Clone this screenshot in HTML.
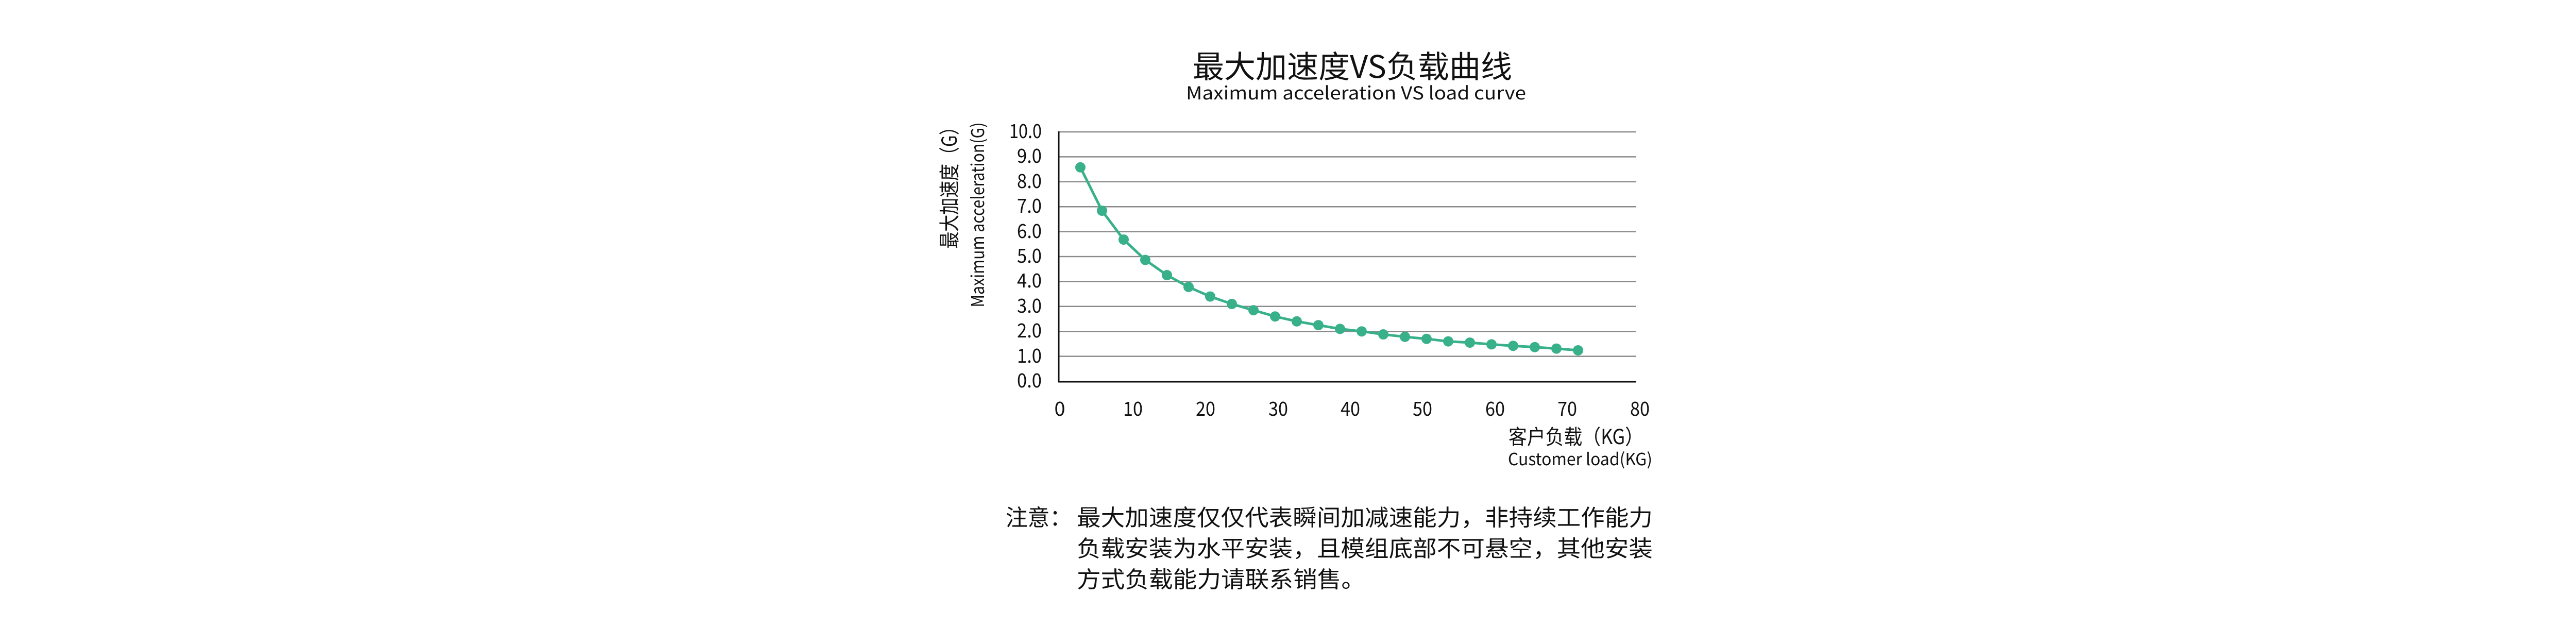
<!DOCTYPE html>
<html><head><meta charset="utf-8"><style>
html,body{margin:0;padding:0;background:#fff;}
svg{display:block;}
text{font-family:"Noto Sans CJK SC","Liberation Sans",sans-serif;fill:#111;}
</style></head><body>
<svg width="5031" height="1250" viewBox="0 0 5031 1250" xmlns="http://www.w3.org/2000/svg">
<text x="2315" y="151" font-size="60" textLength="620" lengthAdjust="spacingAndGlyphs">最大加速度VS负载曲线</text>
<text x="2302" y="193" font-size="35" textLength="660" lengthAdjust="spacingAndGlyphs">Maximum acceleration VS load curve</text>
<g stroke="#8a8a8a" stroke-width="2.5">
<line x1="2055" x2="3176" y1="256" y2="256"/>
<line x1="2055" x2="3176" y1="304.4" y2="304.4"/>
<line x1="2055" x2="3176" y1="352.8" y2="352.8"/>
<line x1="2055" x2="3176" y1="401.2" y2="401.2"/>
<line x1="2055" x2="3176" y1="449.6" y2="449.6"/>
<line x1="2055" x2="3176" y1="498" y2="498"/>
<line x1="2055" x2="3176" y1="546.4" y2="546.4"/>
<line x1="2055" x2="3176" y1="594.8" y2="594.8"/>
<line x1="2055" x2="3176" y1="643.2" y2="643.2"/>
<line x1="2055" x2="3176" y1="691.6" y2="691.6"/>
</g>
<line x1="2054" x2="3176" y1="741" y2="741" stroke="#111" stroke-width="3"/>
<line x1="2055" x2="2055" y1="255" y2="742" stroke="#111" stroke-width="3"/>
<g font-size="38" text-anchor="end">
<text x="2022" y="268" textLength="63" lengthAdjust="spacingAndGlyphs">10.0</text>
<text x="2022" y="316" textLength="48" lengthAdjust="spacingAndGlyphs">9.0</text>
<text x="2022" y="365" textLength="48" lengthAdjust="spacingAndGlyphs">8.0</text>
<text x="2022" y="413" textLength="48" lengthAdjust="spacingAndGlyphs">7.0</text>
<text x="2022" y="462" textLength="48" lengthAdjust="spacingAndGlyphs">6.0</text>
<text x="2022" y="510" textLength="48" lengthAdjust="spacingAndGlyphs">5.0</text>
<text x="2022" y="558" textLength="48" lengthAdjust="spacingAndGlyphs">4.0</text>
<text x="2022" y="607" textLength="48" lengthAdjust="spacingAndGlyphs">3.0</text>
<text x="2022" y="655" textLength="48" lengthAdjust="spacingAndGlyphs">2.0</text>
<text x="2022" y="704" textLength="48" lengthAdjust="spacingAndGlyphs">1.0</text>
<text x="2022" y="752" textLength="48" lengthAdjust="spacingAndGlyphs">0.0</text>
</g>
<g font-size="38" text-anchor="middle">
<text x="2057" y="807">0</text>
<text x="2199" y="807" textLength="38" lengthAdjust="spacingAndGlyphs">10</text>
<text x="2340" y="807" textLength="38" lengthAdjust="spacingAndGlyphs">20</text>
<text x="2481" y="807" textLength="38" lengthAdjust="spacingAndGlyphs">30</text>
<text x="2621" y="807" textLength="38" lengthAdjust="spacingAndGlyphs">40</text>
<text x="2761" y="807" textLength="38" lengthAdjust="spacingAndGlyphs">50</text>
<text x="2902" y="807" textLength="38" lengthAdjust="spacingAndGlyphs">60</text>
<text x="3042" y="807" textLength="38" lengthAdjust="spacingAndGlyphs">70</text>
<text x="3183" y="807" textLength="38" lengthAdjust="spacingAndGlyphs">80</text>
</g>
<text transform="translate(1857,356) rotate(-90)" font-size="40" text-anchor="middle" textLength="253" lengthAdjust="spacingAndGlyphs">最大加速度（G）</text>
<text transform="translate(1910,417) rotate(-90)" font-size="34" text-anchor="middle" textLength="359" lengthAdjust="spacingAndGlyphs">Maximum acceleration(G)</text>
<text x="2928" y="862" font-size="40" textLength="262" lengthAdjust="spacingAndGlyphs">客户负载（KG）</text>
<text x="2927" y="903" font-size="33" textLength="280" lengthAdjust="spacingAndGlyphs">Customer load(KG)</text>
<g fill="none" stroke="#38b08a" stroke-width="5">
<polyline points="2097,324.8 2139,409 2181,465 2223,504.5 2265,534 2307,557 2349,575.5 2391,590 2433,602.1 2475,614.2 2517,623.8 2559,631.1 2601,638.4 2643,643.2 2685,649 2727,653.8 2769,657.7 2811,662.6 2853,665 2895,668.4 2937,671.3 2979,673.7 3021,676.6 3063,680"/>
</g>
<g fill="#38b08a">
<circle cx="2097" cy="324.8" r="10"/><circle cx="2139" cy="409" r="10"/><circle cx="2181" cy="465" r="10"/><circle cx="2223" cy="504.5" r="10"/><circle cx="2265" cy="534" r="10"/><circle cx="2307" cy="557" r="10"/><circle cx="2349" cy="575.5" r="10"/><circle cx="2391" cy="590" r="10"/><circle cx="2433" cy="602.1" r="10"/><circle cx="2475" cy="614.2" r="10"/><circle cx="2517" cy="623.8" r="10"/><circle cx="2559" cy="631.1" r="10"/><circle cx="2601" cy="638.4" r="10"/><circle cx="2643" cy="643.2" r="10"/><circle cx="2685" cy="649" r="10"/><circle cx="2727" cy="653.8" r="10"/><circle cx="2769" cy="657.7" r="10"/><circle cx="2811" cy="662.6" r="10"/><circle cx="2853" cy="665" r="10"/><circle cx="2895" cy="668.4" r="10"/><circle cx="2937" cy="671.3" r="10"/><circle cx="2979" cy="673.7" r="10"/><circle cx="3021" cy="676.6" r="10"/><circle cx="3063" cy="680" r="10"/>
</g>
<g font-size="44">
<text x="1952" y="1020" textLength="128" lengthAdjust="spacingAndGlyphs">注意：</text>
<text x="2090" y="1020" textLength="1118" lengthAdjust="spacingAndGlyphs">最大加速度仅仅代表瞬间加减速能力，非持续工作能力</text>
<text x="2090" y="1080" textLength="1118" lengthAdjust="spacingAndGlyphs">负载安装为水平安装，且模组底部不可悬空，其他安装</text>
<text x="2090" y="1140" textLength="560" lengthAdjust="spacingAndGlyphs">方式负载能力请联系销售。</text>
</g>
</svg>
</body></html>
